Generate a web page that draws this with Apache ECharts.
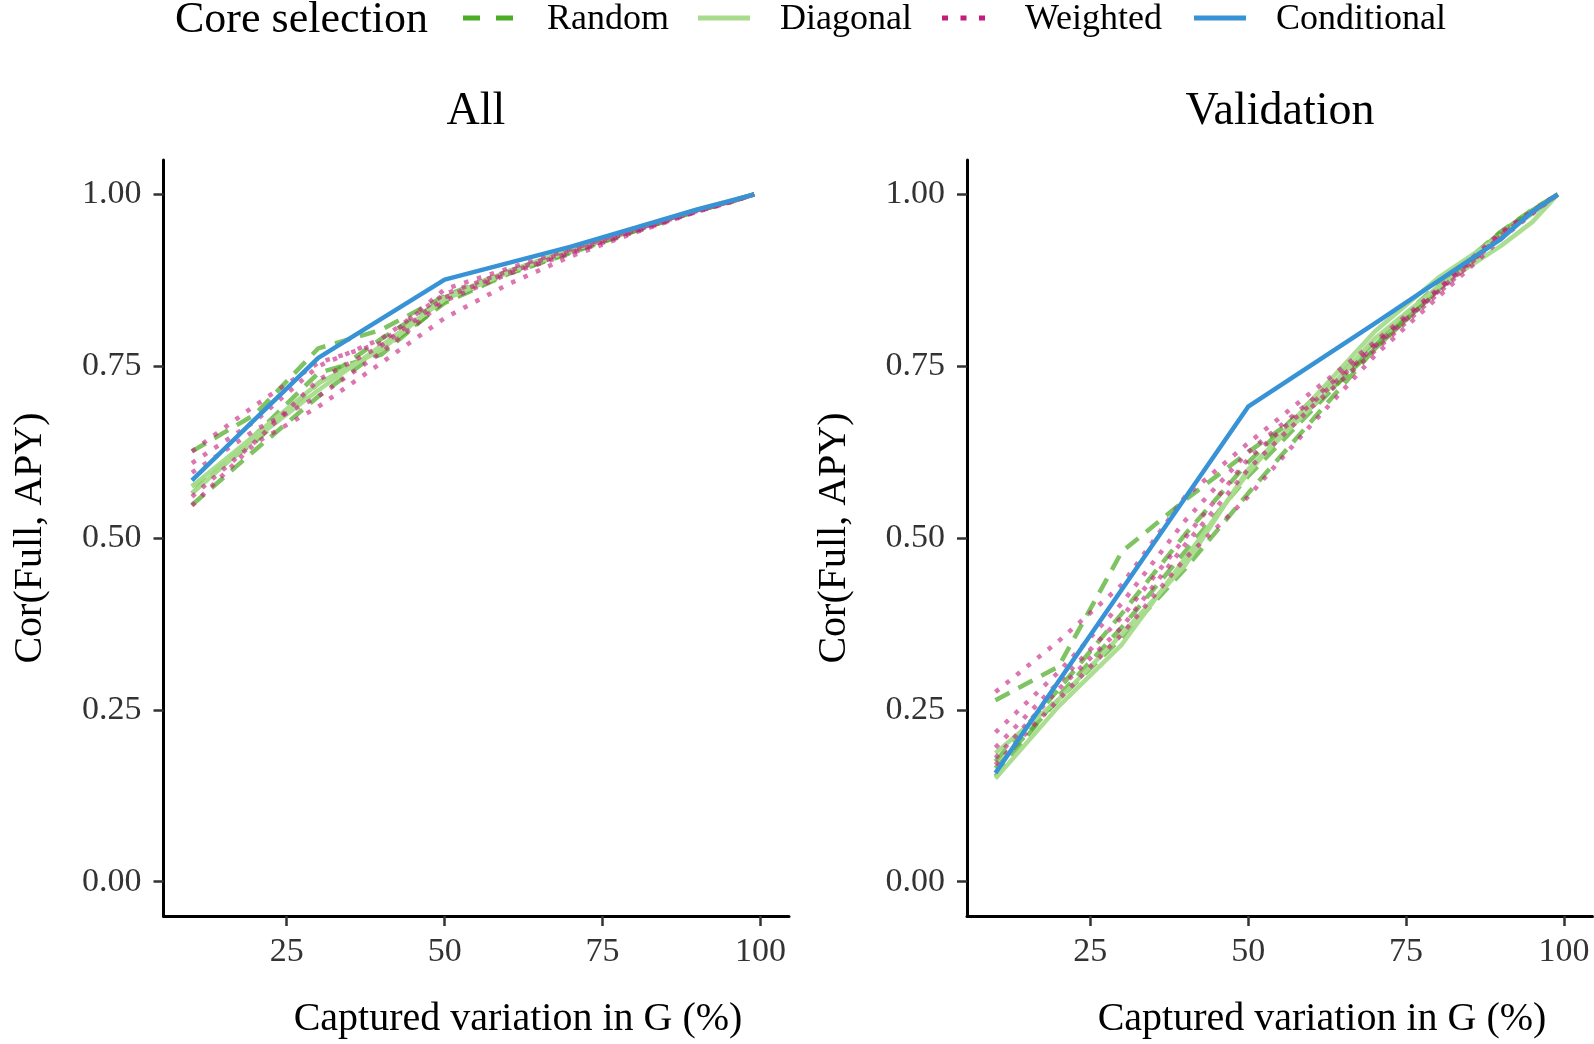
<!DOCTYPE html>
<html>
<head>
<meta charset="utf-8">
<script src="https://cdn.jsdelivr.net/npm/echarts@6/dist/echarts.min.js"></script>
<style>html,body{margin:0;padding:0;background:#fff}#c{width:1594px;height:1044px}</style>
</head>
<body>
<div id="c"></div>
<script>
// ---- data ----
const xTicks = [25, 50, 75, 100];
const yTicks = [0, 0.25, 0.5, 0.75, 1];
const xCore = [10, 20, 30, 40, 50, 60, 70, 80, 90, 95, 99];
const xCond = [10, 30, 50, 70, 90, 95, 99];
const groups = ['Random', 'Diagonal', 'Weighted', 'Conditional'];
const panels = ['All', 'Validation'];

// Panel "All"
const allRandom = [
  [0.626, 0.680, 0.776, 0.803, 0.852, 0.888, 0.918, 0.948, 0.977, 0.989, 1.0],
  [0.565, 0.650, 0.740, 0.767, 0.845, 0.885, 0.916, 0.947, 0.976, 0.989, 1.0],
  [0.548, 0.628, 0.706, 0.774, 0.842, 0.884, 0.915, 0.946, 0.976, 0.988, 1.0],
  [0.575, 0.640, 0.725, 0.790, 0.848, 0.887, 0.917, 0.948, 0.977, 0.989, 1.0]
];
const allDiagonal = [
  [0.575, 0.650, 0.725, 0.774, 0.850, 0.888, 0.920, 0.950, 0.978, 0.990, 1.0],
  [0.565, 0.645, 0.715, 0.780, 0.847, 0.886, 0.918, 0.949, 0.977, 0.989, 1.0]
];
const allWeighted = [
  [0.626, 0.693, 0.755, 0.784, 0.862, 0.892, 0.920, 0.949, 0.977, 0.989, 1.0],
  [0.609, 0.670, 0.750, 0.790, 0.855, 0.888, 0.918, 0.947, 0.976, 0.989, 1.0],
  [0.595, 0.657, 0.706, 0.770, 0.845, 0.884, 0.914, 0.945, 0.975, 0.988, 1.0],
  [0.547, 0.638, 0.691, 0.755, 0.820, 0.869, 0.910, 0.944, 0.975, 0.988, 1.0],
  [0.560, 0.640, 0.730, 0.780, 0.850, 0.886, 0.916, 0.947, 0.976, 0.989, 1.0]
];
const allConditional = [0.584, 0.762, 0.876, 0.924, 0.978, 0.990, 1.0];

// Panel "Validation"
const valRandom = [
  [0.264, 0.313, 0.480, 0.555, 0.625, 0.690, 0.775, 0.860, 0.940, 0.975, 1.0],
  [0.153, 0.270, 0.370, 0.480, 0.590, 0.685, 0.780, 0.865, 0.945, 0.977, 1.0],
  [0.175, 0.280, 0.390, 0.505, 0.610, 0.700, 0.785, 0.868, 0.946, 0.978, 1.0],
  [0.165, 0.265, 0.355, 0.455, 0.565, 0.670, 0.775, 0.860, 0.942, 0.975, 1.0]
];
const valDiagonal = [
  [0.187, 0.265, 0.360, 0.460, 0.600, 0.690, 0.790, 0.865, 0.925, 0.960, 1.0],
  [0.150, 0.255, 0.345, 0.470, 0.595, 0.700, 0.800, 0.878, 0.940, 0.972, 1.0]
];
const valWeighted = [
  [0.276, 0.350, 0.432, 0.560, 0.638, 0.712, 0.785, 0.862, 0.945, 0.976, 1.0],
  [0.217, 0.305, 0.405, 0.525, 0.625, 0.700, 0.780, 0.860, 0.942, 0.975, 1.0],
  [0.180, 0.280, 0.370, 0.490, 0.600, 0.690, 0.772, 0.855, 0.940, 0.974, 1.0],
  [0.170, 0.265, 0.360, 0.470, 0.560, 0.665, 0.765, 0.850, 0.935, 0.972, 1.0],
  [0.195, 0.290, 0.385, 0.500, 0.615, 0.695, 0.778, 0.858, 0.940, 0.974, 1.0]
];
const valConditional = [0.158, 0.425, 0.691, 0.812, 0.935, 0.975, 1.0];

// ---- styles ----
const FONT = 'Liberation Serif';
const styles = {
  Random:      { color: '#4dac26', type: [16, 10], opacity: 0.72, key: [17, 16] },
  Diagonal:    { color: '#a8dc8c', type: 'solid', opacity: 0.95, key: null },
  Weighted:    { color: '#c51b7d', type: [4.5, 9], opacity: 0.6, key: [6, 12.5] },
  Conditional: { color: '#3793d6', type: 'solid', opacity: 1, key: null }
};

function mk(name, xs, ys, idx) {
  const s = styles[name];
  return {
    name: name, type: 'line', xAxisIndex: idx, yAxisIndex: idx,
    symbol: 'none', showSymbol: false, silent: true, animation: false,
    data: xs.map((x, i) => [x, ys[i]]),
    lineStyle: { color: s.color, width: 4.5, type: s.type, opacity: s.opacity, cap: 'butt', join: 'round' },
    itemStyle: { color: s.color }
  };
}

const series = [];
[[allRandom, allDiagonal, allWeighted, allConditional],
 [valRandom, valDiagonal, valWeighted, valConditional]].forEach((p, idx) => {
  p[0].forEach(ys => series.push(mk('Random', xCore, ys, idx)));
  p[1].forEach(ys => series.push(mk('Diagonal', xCore, ys, idx)));
  p[2].forEach(ys => series.push(mk('Weighted', xCore, ys, idx)));
  series.push(mk('Conditional', xCond, p[3], idx));
});

const grids = [
  { left: 163.5, top: 160, width: 625.5, height: 756 },
  { left: 967, top: 160, width: 625.5, height: 756 }
];

function xAx(i) {
  return {
    type: 'value', gridIndex: i, min: 5.5, max: 104.5,
    splitLine: { show: false },
    axisLine: { show: true, onZero: false, lineStyle: { color: '#000', width: 3 } },
    axisTick: { show: true, customValues: xTicks, length: 10, lineStyle: { color: '#333', width: 2.5 } },
    axisLabel: { customValues: xTicks, margin: 19, color: '#333', fontFamily: FONT, fontSize: 34 }
  };
}
function yAx(i) {
  return {
    type: 'value', gridIndex: i, min: -0.05, max: 1.05,
    splitLine: { show: false },
    axisLine: { show: true, onZero: false, lineStyle: { color: '#000', width: 3 } },
    axisTick: { show: true, customValues: yTicks, length: 10, lineStyle: { color: '#333', width: 2.5 } },
    axisLabel: { customValues: yTicks, margin: 22, color: '#333', fontFamily: FONT, fontSize: 34,
      formatter: v => v.toFixed(2) }
  };
}

function txt(text, x, y, size, align, rot) {
  return {
    type: 'text', x: x, y: y, rotation: rot || 0, silent: true,
    style: { text: text, x: 0, y: 0, fill: '#000', font: size + 'px "' + FONT + '"',
      textAlign: align || 'center', textVerticalAlign: 'middle' }
  };
}

// manual legend (keys + labels)
const legendKeyX = [463, 698, 942, 1194];
const legendTextX = [547, 780, 1025, 1276];
const legendGraphics = [];
groups.forEach((g, i) => {
  const s = styles[g];
  legendGraphics.push({
    type: 'line', silent: true,
    shape: { x1: legendKeyX[i], y1: 18, x2: legendKeyX[i] + 52, y2: 18 },
    style: { stroke: s.color, lineWidth: 5, lineDash: s.key, lineCap: 'butt' }
  });
  legendGraphics.push(txt(g, legendTextX[i], 20, 36, 'left'));
});

const chart = echarts.init(document.getElementById('c'), null, { renderer: 'canvas' });
chart.setOption({
  backgroundColor: '#fff',
  animation: false,
  grid: grids,
  xAxis: [xAx(0), xAx(1)],
  yAxis: [yAx(0), yAx(1)],
  graphic: [
    txt('Core selection', 175, 20, 44, 'left'),
    txt(panels[0], 476, 112, 46),
    txt(panels[1], 1280, 112, 46),
    txt('Captured variation in G (%)', 518, 1019, 40),
    txt('Captured variation in G (%)', 1322, 1019, 40),
    txt('Cor(Full, APY)', 30, 538, 40, 'center', Math.PI / 2),
    txt('Cor(Full, APY)', 834, 538, 40, 'center', Math.PI / 2)
  ].concat(legendGraphics),
  series: series
});
</script>
</body>
</html>
